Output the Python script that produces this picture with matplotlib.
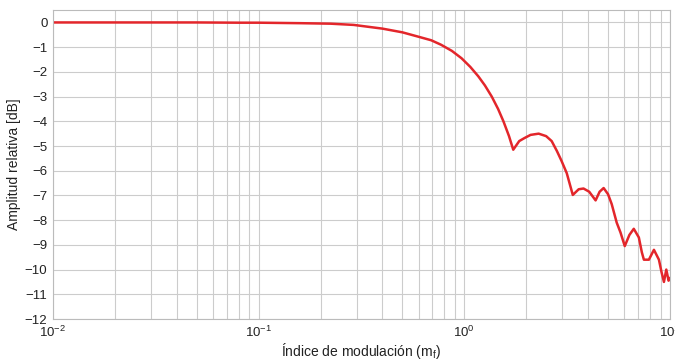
import matplotlib
matplotlib.use("Agg")
import matplotlib.pyplot as plt
from matplotlib.ticker import LogLocator, FixedLocator

plt.rcParams['font.family'] = ['Liberation Sans', 'DejaVu Sans']
plt.rcParams['mathtext.fontset'] = 'custom'
plt.rcParams['mathtext.rm'] = 'Liberation Sans'

mf = [0.01, 0.05, 0.08, 0.1, 0.16, 0.224, 0.29, 0.40, 0.50, 0.60, 0.69, 0.77,
      0.87, 0.97, 1.07, 1.17, 1.26, 1.36, 1.46, 1.55, 1.65, 1.73, 1.85, 1.96,
      2.1, 2.30, 2.5, 2.66, 2.82, 2.97, 3.15, 3.37, 3.6, 3.80, 4.05, 4.35,
      4.55, 4.76, 5.0, 5.21, 5.51, 5.75, 6.03, 6.35, 6.67, 7.06, 7.3, 7.47,
      7.7, 7.90, 8.36, 8.84, 9.1, 9.35, 9.6, 9.85, 10.0]
amp_db = [0.0, 0.0, -0.01, -0.01, -0.03, -0.05, -0.1, -0.25, -0.4, -0.58, -0.72, -0.9,
          -1.15, -1.45, -1.8, -2.18, -2.55, -3.0, -3.5, -4.0, -4.6, -5.15, -4.8, -4.68,
          -4.55, -4.5, -4.6, -4.8, -5.2, -5.6, -6.1, -6.98, -6.75, -6.72, -6.85, -7.2,
          -6.85, -6.7, -6.95, -7.35, -8.1, -8.5, -9.05, -8.6, -8.35, -8.7, -9.3, -9.6,
          -9.6, -9.6, -9.2, -9.6, -10.1, -10.5, -10.0, -10.45, -10.35]

y_ticks = list(range(-12, 1))
x_range = (0.01, 10)
y_range = (-12, 0.5)

fig = plt.figure(figsize=(6.75, 3.63), dpi=100)
ax = fig.add_axes([0.0785, 0.1212, 0.914, 0.851])
ax.plot(mf, amp_db, color='#e3262b', linewidth=1.8)
ax.set_xscale('log')
ax.set_xlim(*x_range)
ax.set_ylim(*y_range)
ax.yaxis.set_major_locator(FixedLocator(y_ticks))
ax.xaxis.set_major_locator(LogLocator(base=10, numticks=10))
ax.xaxis.set_minor_locator(LogLocator(base=10, subs=range(2, 10), numticks=10))
ax.grid(True, which='major', color='#cccccc', linewidth=0.8)
ax.grid(True, which='minor', axis='x', color='#cccccc', linewidth=0.8)
ax.set_axisbelow(True)
for s in ax.spines.values():
    s.set_color('#bbbbbb')
    s.set_linewidth(0.8)
ax.tick_params(which='both', length=0, labelsize=9.5, colors='#222222', pad=4)
ax.set_xlabel('Índice de modulación (m$_\\mathregular{f}$)', fontsize=10, color='#222222', labelpad=1)
ax.set_ylabel('Amplitud relativa [dB]', fontsize=10, color='#222222', labelpad=3)
fig.savefig('out.png', dpi=100)
